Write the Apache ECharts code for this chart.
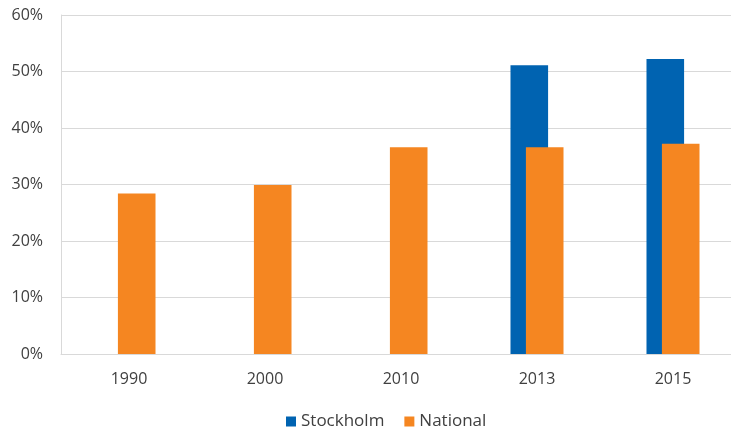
<!DOCTYPE html>
<html>
<head>
<meta charset="utf-8">
<script src="https://cdn.jsdelivr.net/npm/echarts@6/dist/echarts.min.js"></script>
<style>
  html, body { margin: 0; padding: 0; background: #fff; overflow: hidden; }
  #chart { width: 741px; height: 432px; }
</style>
</head>
<body>
<div id="chart"></div>
<script>
  // values, in percent
  var years = ['1990', '2000', '2010', '2013', '2015'];
  var stockholm = [null, null, null, 51.1, 52.2];
  var national = [28.4, 29.9, 36.6, 36.6, 37.2];
  var yTicks = [0, 10, 20, 30, 40, 50, 60];

  var chart = echarts.init(document.getElementById('chart'));
  var font = '"Open Sans", "Noto Sans", sans-serif';

  var option = {
    animation: false,
    textStyle: { fontFamily: font },
    // plot runs past the right edge of the picture, as in the original
    grid: { left: 61, top: 15, width: 680, height: 339 },
    legend: {
      left: 286,
      top: 413,
      padding: 0,
      itemWidth: 10,
      itemHeight: 10,
      itemGap: 20,
      icon: 'rect',
      textStyle: { fontSize: 17, color: '#404040', fontFamily: font },
      data: ['Stockholm', 'National']
    },
    xAxis: {
      type: 'category',
      data: years,
      axisLine: { show: true, lineStyle: { color: '#d9d9d9', width: 1 } },
      axisTick: { show: false },
      axisLabel: { fontSize: 16, color: '#404040', margin: 17, fontFamily: font }
    },
    yAxis: {
      type: 'value',
      min: yTicks[0],
      max: yTicks[yTicks.length - 1],
      interval: 10,
      axisLine: { show: true, lineStyle: { color: '#d9d9d9', width: 1 } },
      axisTick: { show: false },
      splitLine: { lineStyle: { color: '#d9d9d9', width: 1 } },
      axisLabel: { fontSize: 16, color: '#404040', margin: 18, formatter: '{value}%', fontFamily: font }
    },
    series: [
      {
        name: 'Stockholm',
        type: 'bar',
        data: stockholm,
        barWidth: 37.6,
        barGap: '-59%',
        itemStyle: { color: '#0063b1' }
      },
      {
        name: 'National',
        type: 'bar',
        data: national,
        barWidth: 37.6,
        barGap: '-59%',
        itemStyle: { color: '#f58621' }
      }
    ]
  };

  chart.setOption(option);
</script>
</body>
</html>
